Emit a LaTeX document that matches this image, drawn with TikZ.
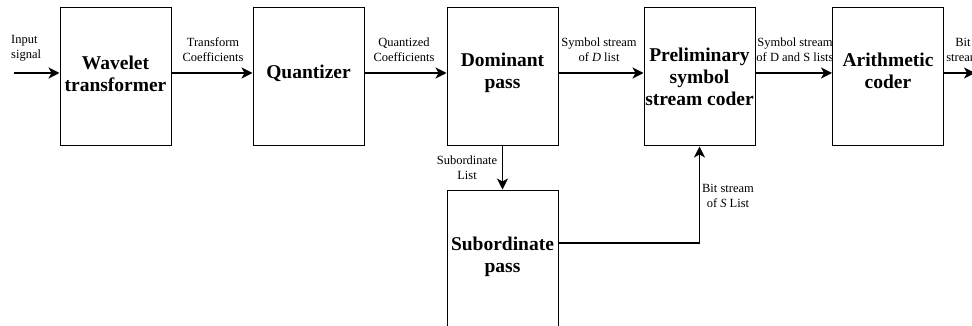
\documentclass[tikz,border=0pt]{standalone}
\usepackage{fontspec}
\setmainfont{Liberation Serif}
\usetikzlibrary{arrows.meta}
\begin{document}
\begin{tikzpicture}[x=1pt,y=-1pt,
  blk/.style={draw, line width=1pt, minimum width=111pt, minimum height=138pt, inner sep=0pt},
  btxt/.style={inner sep=0pt, align=center, font=\fontsize{19.5}{22}\selectfont\bfseries},
  lbl/.style={inner sep=0pt, align=center, font=\fontsize{12.5}{15}\selectfont},
  arr/.style={line width=1.6pt, -{Stealth[length=11pt,width=11pt,inset=3pt]}}]
\clip (0,0) rectangle (972,326);
\useasboundingbox (0,0) rectangle (972,326);
\node[blk] (wav) at (115.5,77) {};
\node[blk] (qua) at (308.5,77) {};
\node[blk] (dom) at (502.5,77) {};
\node[blk] (pre) at (699.5,77) {};
\node[blk] (ari) at (888,77) {};
\node[blk, minimum height=142pt] (sub) at (502.5,261) {};
\node[btxt] (wavt) at (115.5,74) {Wavelet\\transformer};
\node[btxt] (quat) at (308.5,73) {Quantizer};
\node[btxt] (domt) at (502.5,73) {Dominant\\pass};
\node[btxt] (pret) at (699.5,77) {Preliminary\\symbol\\stream coder};
\node[btxt] (arit) at (888,71) {Arithmetic\\coder};
\node[btxt] (subt) at (502.5,257) {Subordinate\\pass};
\coordinate (in) at (14,73);
\coordinate (out) at (975,73);
\coordinate (bend) at (699.5,243);
\draw[arr] (in) -- (wav.west |- in);
\draw[arr] (wav.east |- in) -- (qua.west |- in);
\draw[arr] (qua.east |- in) -- (dom.west |- in);
\draw[arr] (dom.east |- in) -- (pre.west |- in);
\draw[arr] (pre.east |- in) -- (ari.west |- in);
\draw[arr] (ari.east |- in) -- (out);
\draw[arr] (dom.south) -- (sub.north);
\draw[arr] (sub.east |- bend) -- (bend) -- (pre.south);
\node[lbl, align=left, anchor=west] (l1) at (11,48) {Input\\signal};
\node[lbl] (l2) at (213,49.5) {Transform\\Coefficients};
\node[lbl] (l3) at (404,49.5) {Quantized\\Coefficients};
\node[lbl] (l4) at (599,49.5) {Symbol stream\\of \textit{D} list};
\node[lbl] (l5) at (795,49.5) {Symbol stream\\of D and S lists};
\node[lbl] (l6) at (963,49.5) {Bit\\stream};
\node[lbl] (l7) at (467,167.5) {Subordinate\\List};
\node[lbl] (l8) at (728,195.5) {Bit stream\\of \textit{S} List};
\end{tikzpicture}
\end{document}
